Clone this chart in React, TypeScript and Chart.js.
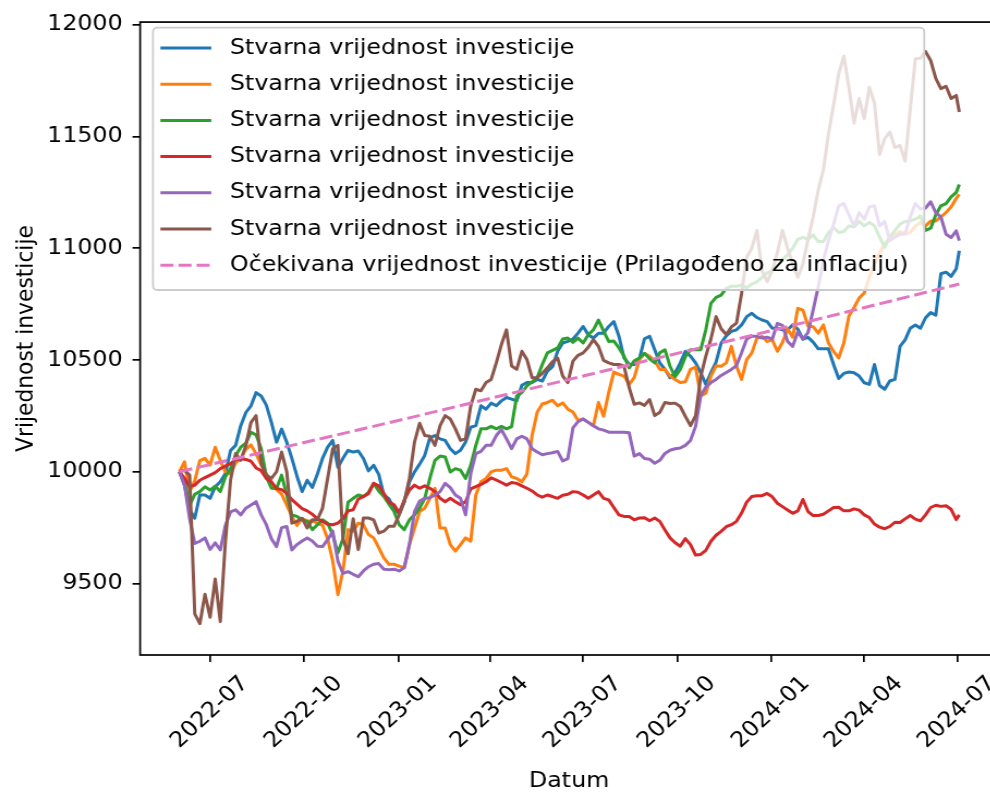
import React, { useEffect, useRef } from "react";
import { Chart, registerables } from "chart.js";

Chart.register(...registerables);

// ---- data (5-day sampling) ----
const DATES = [
  "2022-06-01", "2022-06-06", "2022-06-11", "2022-06-16", "2022-06-21", "2022-06-26", "2022-07-01", "2022-07-06",
  "2022-07-11", "2022-07-16", "2022-07-21", "2022-07-26", "2022-07-31", "2022-08-05", "2022-08-10", "2022-08-15",
  "2022-08-20", "2022-08-25", "2022-08-30", "2022-09-04", "2022-09-09", "2022-09-14", "2022-09-19", "2022-09-24",
  "2022-09-29", "2022-10-04", "2022-10-09", "2022-10-14", "2022-10-19", "2022-10-24", "2022-10-29", "2022-11-03",
  "2022-11-08", "2022-11-13", "2022-11-18", "2022-11-23", "2022-11-28", "2022-12-03", "2022-12-08", "2022-12-13",
  "2022-12-18", "2022-12-23", "2022-12-28", "2023-01-02", "2023-01-07", "2023-01-12", "2023-01-17", "2023-01-22",
  "2023-01-27", "2023-02-01", "2023-02-06", "2023-02-11", "2023-02-16", "2023-02-21", "2023-02-26", "2023-03-03",
  "2023-03-08", "2023-03-13", "2023-03-18", "2023-03-23", "2023-03-28", "2023-04-02", "2023-04-07", "2023-04-12",
  "2023-04-17", "2023-04-22", "2023-04-27", "2023-05-02", "2023-05-07", "2023-05-12", "2023-05-17", "2023-05-22",
  "2023-05-27", "2023-06-01", "2023-06-06", "2023-06-11", "2023-06-16", "2023-06-21", "2023-06-26", "2023-07-01",
  "2023-07-06", "2023-07-11", "2023-07-16", "2023-07-21", "2023-07-26", "2023-07-31", "2023-08-05", "2023-08-10",
  "2023-08-15", "2023-08-20", "2023-08-25", "2023-08-30", "2023-09-04", "2023-09-09", "2023-09-14", "2023-09-19",
  "2023-09-24", "2023-09-29", "2023-10-04", "2023-10-09", "2023-10-14", "2023-10-19", "2023-10-24", "2023-10-29",
  "2023-11-03", "2023-11-08", "2023-11-13", "2023-11-18", "2023-11-23", "2023-11-28", "2023-12-03", "2023-12-08",
  "2023-12-13", "2023-12-18", "2023-12-23", "2023-12-28", "2024-01-02", "2024-01-07", "2024-01-12", "2024-01-17",
  "2024-01-22", "2024-01-27", "2024-02-01", "2024-02-06", "2024-02-11", "2024-02-16", "2024-02-21", "2024-02-26",
  "2024-03-02", "2024-03-07", "2024-03-12", "2024-03-17", "2024-03-22", "2024-03-27", "2024-04-01", "2024-04-06",
  "2024-04-11", "2024-04-16", "2024-04-21", "2024-04-26", "2024-05-01", "2024-05-06", "2024-05-11", "2024-05-16",
  "2024-05-21", "2024-05-26", "2024-05-31", "2024-06-05", "2024-06-10", "2024-06-15", "2024-06-20", "2024-06-25",
  "2024-06-30", "2024-07-03",
];

const BLUE = [
  10000, 9940, 9830, 9792, 9896, 9896, 9881, 9933, 9955, 9992, 10095, 10118, 10206, 10265, 10295, 10354,
  10339, 10298, 10221, 10132, 10191, 10132, 10060, 9980, 9911, 9962, 9930, 9990, 10060, 10110, 10140, 10020,
  10060, 10096, 10088, 10093, 10059, 10004, 10029, 9988, 9896, 9878, 9837, 9812, 9866, 9955, 9999, 10034,
  10073, 10152, 10162, 10147, 10140, 10103, 10081, 10096, 10133, 10199, 10206, 10295, 10280, 10307, 10295, 10317,
  10332, 10325, 10317, 10387, 10399, 10399, 10413, 10406, 10450, 10470, 10539, 10576, 10583, 10594, 10620, 10650,
  10613, 10598, 10620, 10620, 10650, 10672, 10606, 10509, 10480, 10480, 10505, 10595, 10606, 10546, 10487, 10458,
  10421, 10443, 10487, 10539, 10517, 10487, 10443, 10391, 10443, 10490, 10576, 10608, 10628, 10635, 10657, 10694,
  10709, 10690, 10679, 10672, 10642, 10642, 10635, 10635, 10657, 10638, 10593, 10601, 10580, 10550, 10550, 10550,
  10480, 10417, 10440, 10446, 10443, 10428, 10398, 10391, 10480, 10386, 10369, 10406, 10413, 10561, 10590, 10642,
  10657, 10642, 10689, 10712, 10700, 10886, 10893, 10874,
  10908, 10989,
];

const ORANGE = [
  10000, 10044, 9911, 9960, 10050, 10060, 10030, 10110, 10050, 9999, 9990, 10040, 10060, 10100, 10120, 10080,
  10030, 9990, 9950, 9920, 9900, 9850, 9800, 9760, 9790, 9780, 9780, 9770, 9760, 9700, 9600, 9450,
  9556, 9741, 9734, 9770, 9763, 9719, 9704, 9660, 9615, 9586, 9586, 9578, 9571, 9674, 9748, 9822,
  9837, 9881, 9926, 9748, 9748, 9674, 9645, 9674, 9704, 9689, 9896, 9955, 9970, 9999, 10007, 10007,
  10014, 9977, 9970, 9955, 9990, 10162, 10266, 10303, 10310, 10320, 10295, 10308, 10280, 10267, 10229, 10236,
  10221, 10206, 10310, 10248, 10354, 10446, 10436, 10428, 10391, 10421, 10502, 10529, 10517, 10496, 10458, 10458,
  10428, 10413, 10399, 10403, 10458, 10468, 10339, 10351, 10428, 10474, 10472, 10487, 10561, 10472, 10413, 10502,
  10532, 10598, 10606, 10583, 10590, 10539, 10578, 10639, 10602, 10731, 10723, 10652, 10649, 10620, 10657, 10576,
  10539, 10509, 10576, 10697, 10735, 10777, 10800, 10870, 10930, 10980, 11020, 11045, 11060, 11075, 11065, 11070,
  11100, 11115, 11100, 11122, 11122, 11140, 11160, 11185,
  11223, 11241,
];

const GREEN = [
  10000, 9955, 9851, 9899, 9911, 9933, 9918, 9936, 9911, 9977, 10014, 10073, 10110, 10128, 10177, 10165,
  10103, 9977, 9926, 9925, 9985, 9896, 9807, 9800, 9785, 9778, 9741, 9763, 9785, 9770, 9718, 9637,
  9700, 9864, 9881, 9896, 9889, 9908, 9948, 9914, 9889, 9855, 9822, 9763, 9741, 9785, 9807, 9837,
  9881, 9970, 10051, 10070, 10066, 9999, 10014, 10007, 9970, 10029, 10118, 10192, 10192, 10203, 10192, 10203,
  10192, 10202, 10339, 10354, 10384, 10402, 10421, 10480, 10532, 10543, 10554, 10594, 10598, 10579, 10598, 10576,
  10613, 10635, 10679, 10629, 10583, 10585, 10554, 10517, 10465, 10496, 10509, 10530, 10505, 10487, 10532, 10546,
  10472, 10425, 10458, 10515, 10546, 10546, 10546, 10635, 10753, 10780, 10790, 10821, 10830, 10830, 10835, 10823,
  10840, 10850, 10870, 10890, 10900, 10920, 10950, 10970, 11000, 11040, 11049, 11040, 11060, 11030, 11030, 11070,
  11093, 11070, 11075, 11100, 11095, 11120, 11100, 11115, 11100, 11050, 11004, 11050, 11080, 11108, 11120, 11123,
  11130, 11145, 11080, 11090, 11150, 11190, 11200, 11230,
  11250, 11285,
];

const RED = [
  10000, 9970, 9933, 9940, 9962, 9974, 9985, 9996, 10014, 10026, 10036, 10054, 10058, 10055, 10047, 10017,
  10005, 9970, 9955, 9925, 9920, 9903, 9875, 9855, 9835, 9825, 9810, 9789, 9778, 9765, 9763, 9770,
  9790, 9825, 9830, 9878, 9889, 9902, 9948, 9937, 9903, 9864, 9852, 9815, 9874, 9918, 9940, 9926,
  9937, 9926, 9911, 9881, 9866, 9881, 9866, 9852, 9866, 9923, 9933, 9943, 9955, 9973, 9963, 9952,
  9940, 9952, 9948, 9937, 9926, 9914, 9896, 9886, 9896, 9889, 9881, 9895, 9899, 9911, 9908, 9896,
  9881, 9896, 9911, 9881, 9874, 9840, 9807, 9800, 9800, 9785, 9793, 9794, 9781, 9793, 9778, 9739,
  9704, 9682, 9667, 9701, 9674, 9627, 9630, 9648, 9689, 9716, 9733, 9754, 9763, 9778, 9815, 9864,
  9889, 9893, 9893, 9903, 9888, 9859, 9844, 9829, 9814, 9825, 9876, 9822, 9804, 9804, 9810, 9825,
  9840, 9841, 9825, 9825, 9834, 9828, 9807, 9795, 9766, 9752, 9745, 9755, 9774, 9773, 9789, 9804,
  9788, 9780, 9807, 9840, 9850, 9845, 9848, 9832,
  9786, 9807,
];

const PURPLE = [
  10000, 9940, 9790, 9679, 9689, 9704, 9652, 9682, 9650, 9760, 9820, 9830, 9807, 9837, 9851, 9866,
  9807, 9763, 9700, 9665, 9750, 9755, 9650, 9674, 9690, 9704, 9690, 9667, 9665, 9696, 9734, 9600,
  9545, 9553, 9541, 9530, 9556, 9575, 9586, 9589, 9564, 9562, 9564, 9556, 9571, 9674, 9822, 9869,
  9881, 9884, 9896, 9911, 9948, 9929, 9896, 9881, 9807, 9992, 10081, 10091, 10118, 10118, 10162, 10189,
  10147, 10103, 10147, 10159, 10147, 10103, 10088, 10076, 10081, 10085, 10091, 10048, 10059, 10196, 10224, 10236,
  10221, 10206, 10192, 10186, 10177, 10177, 10177, 10177, 10174, 10070, 10081, 10059, 10056, 10038, 10051, 10082,
  10096, 10103, 10106, 10118, 10140, 10203, 10339, 10379, 10399, 10413, 10431, 10444, 10458, 10475, 10532, 10594,
  10606, 10606, 10598, 10602, 10593, 10664, 10655, 10583, 10561, 10626, 10593, 10623, 10723, 10827, 10945, 11034,
  11108, 11189, 11200, 11150, 11100, 11160, 11130, 11185, 11190, 11100, 11120, 11034, 11049, 11063, 11063, 11140,
  11200, 11175, 11180, 11208, 11159, 11140, 11063, 11048,
  11078, 11034,
];

const BROWN = [
  10000, 10007, 9985, 9364, 9320, 9452, 9349, 9520, 9330, 9689, 9962, 10081, 10051, 10118, 10221, 10251,
  10036, 9985, 9970, 10000, 10088, 10000, 9770, 9778, 9792, 9748, 9785, 9785, 9837, 9970, 10103, 10118,
  9700, 9633, 9790, 9652, 9793, 9793, 9785, 9726, 9734, 9756, 9756, 9807, 9866, 9970, 10133, 10217,
  10162, 10159, 10118, 10206, 10251, 10236, 10192, 10140, 10147, 10295, 10369, 10362, 10399, 10413, 10487, 10569,
  10635, 10473, 10458, 10539, 10502, 10421, 10421, 10440, 10465, 10492, 10509, 10428, 10399, 10495, 10521, 10532,
  10557, 10591, 10561, 10498, 10487, 10480, 10480, 10472, 10376, 10302, 10308, 10297, 10323, 10251, 10266, 10310,
  10305, 10307, 10292, 10248, 10206, 10251, 10425, 10517, 10594, 10694, 10640, 10614, 10648, 10665, 10798, 10960,
  11000, 11080, 10900, 10850, 10900, 10980, 11080, 11000, 10930, 10870, 10930, 11040, 11140, 11260, 11350, 11510,
  11640, 11780, 11860, 11720, 11560, 11670, 11580, 11720, 11650, 11420, 11490, 11520, 11450, 11460, 11390, 11620,
  11848, 11850, 11880, 11840, 11760, 11714, 11725, 11670,
  11684, 11610,
];

const EXPECTED_DATES = ["2022-06-01", "2023-01-01", "2024-01-01", "2024-07-03"];
const EXPECTED = [10000, 10229, 10631, 10840];

const X_TICK_DATES = ["2022-07", "2022-10", "2023-01", "2023-04", "2023-07", "2023-10", "2024-01", "2024-04", "2024-07"];
const Y_TICKS = [9500, 10000, 10500, 11000, 11500, 12000];

const SERIES_LABEL = "Stvarna vrijednost investicije";
const EXPECTED_LABEL = "Očekivana vrijednost investicije (Prilagođeno za inflaciju)";
const X_TITLE = "Datum";
const Y_TITLE = "Vrijednost investicije";

const COLORS = ["#1f77b4", "#ff7f0e", "#2ca02c", "#d62728", "#9467bd", "#8c564b"];
const PINK = "#e377c2";

// ---- layout (bitmap is stretched horizontally on screen) ----
const STRETCH = 1.09;
const W = 927;
const H = 794;
const FONT = "DejaVu Sans";
const FS = 21.8;

const toDay = (s: string) => {
  const p = s.split("-").map(Number);
  return Date.UTC(p[0], p[1] - 1, p[2] || 1) / 86400000;
};
const X_REF = toDay("2022-07-01");

const framePlugin = {
  id: "frameAndLegend",
  afterDatasetsDraw(chart: any) {
    const ctx = chart.ctx;
    const a = chart.chartArea;
    ctx.save();
    ctx.strokeStyle = "#000";
    ctx.lineWidth = 1.7;
    ctx.strokeRect(a.left, a.top, a.right - a.left, a.bottom - a.top);

    const bx = 140.4, by = 27.7, bw = 707.9, bh = 262.3, r = 4;
    ctx.beginPath();
    ctx.moveTo(bx + r, by);
    ctx.lineTo(bx + bw - r, by);
    ctx.arcTo(bx + bw, by, bx + bw, by + r, r);
    ctx.lineTo(bx + bw, by + bh - r);
    ctx.arcTo(bx + bw, by + bh, bx + bw - r, by + bh, r);
    ctx.lineTo(bx + r, by + bh);
    ctx.arcTo(bx, by + bh, bx, by + bh - r, r);
    ctx.lineTo(bx, by + r);
    ctx.arcTo(bx, by, bx + r, by, r);
    ctx.closePath();
    ctx.fillStyle = "rgba(255,255,255,0.8)";
    ctx.fill();
    ctx.strokeStyle = "#cccccc";
    ctx.lineWidth = 1.8;
    ctx.stroke();

    const entries = COLORS.map((c) => ({ color: c, label: SERIES_LABEL, dash: [] as number[] }));
    entries.push({ color: PINK, label: EXPECTED_LABEL, dash: [12, 4.6] });
    ctx.font = `${FS}px "${FONT}"`;
    ctx.textBaseline = "middle";
    ctx.textAlign = "left";
    entries.forEach((e, i) => {
      const y = 48.0 + i * 36.2;
      ctx.beginPath();
      ctx.setLineDash(e.dash);
      ctx.strokeStyle = e.color;
      ctx.lineWidth = 3;
      ctx.moveTo(147.2, y);
      ctx.lineTo(193.9, y);
      ctx.stroke();
      ctx.setLineDash([]);
      ctx.fillStyle = "#000";
      ctx.fillText(e.label, 211, y);
    });
    ctx.restore();
  },
};

export default function App() {
  const ref = useRef<HTMLCanvasElement | null>(null);

  useEffect(() => {
    if (!ref.current) return;
    Chart.defaults.font.family = FONT;
    Chart.defaults.color = "#000";
    const series = [BLUE, ORANGE, GREEN, RED, PURPLE, BROWN];
    const datasets: any[] = series.map((vals, si) => ({
      label: SERIES_LABEL,
      data: DATES.map((d, i) => ({ x: toDay(d), y: vals[i] })),
      borderColor: COLORS[si],
      backgroundColor: COLORS[si],
      borderWidth: 3,
      pointRadius: 0,
      tension: 0,
      fill: false,
      borderJoinStyle: "round",
      order: 6 - si,
    }));
    datasets.push({
      label: EXPECTED_LABEL,
      data: EXPECTED_DATES.map((d, i) => ({ x: toDay(d), y: EXPECTED[i] })),
      borderColor: PINK,
      backgroundColor: PINK,
      borderWidth: 3,
      borderDash: [12, 4.6],
      pointRadius: 0,
      tension: 0,
      fill: false,
      order: 0,
    });

    const chart = new Chart(ref.current, {
      type: "line",
      data: { datasets },
      plugins: [framePlugin],
      options: {
        animation: false,
        responsive: false,
        devicePixelRatio: 1,
        layout: { padding: { top: 16, right: W - 916.1, left: 0, bottom: 0 } },
        plugins: { legend: { display: false }, tooltip: { enabled: false } },
        scales: {
          x: {
            type: "linear",
            min: X_REF - 68.45,
            max: X_REF + 771.0,
            afterBuildTicks: (s: any) => {
              s.ticks = X_TICK_DATES.map((d) => ({ value: toDay(d) }));
            },
            afterFit: (s: any) => {
              s.height = H - 655;
            },
            ticks: {
              autoSkip: false,
              minRotation: 45,
              maxRotation: 45,
              padding: 9,
              labelOffset: 32,
              font: { family: FONT, size: FS },
              color: "#000",
              callback: (_v: any, i: number) => X_TICK_DATES[i],
            },
            grid: { display: true, drawOnChartArea: false, drawTicks: true, tickLength: 7, color: "#000", lineWidth: 1.7 },
            border: { display: false },
            title: { display: true, text: X_TITLE, font: { family: FONT, size: FS }, color: "#000", padding: { top: 0, bottom: 0 } },
          },
          y: {
            type: "linear",
            min: 9180,
            max: 12012,
            afterBuildTicks: (s: any) => {
              s.ticks = Y_TICKS.map((v) => ({ value: v }));
            },
            afterFit: (s: any) => {
              s.width = 128.6;
            },
            ticks: {
              padding: 9,
              font: { family: FONT, size: FS },
              color: "#000",
              callback: (v: any) => String(v),
            },
            grid: { display: true, drawOnChartArea: false, drawTicks: true, tickLength: 7, color: "#000", lineWidth: 1.7 },
            border: { display: false },
            title: { display: true, text: Y_TITLE, font: { family: FONT, size: FS }, color: "#000", padding: { top: 11, bottom: 0 } },
          },
        },
      } as any,
    });
    return () => chart.destroy();
  }, []);

  return (
    <div style={{ position: "fixed", left: 0, top: 0, width: 990, height: 794, overflow: "hidden", background: "#fff" }}>
      <canvas
        ref={ref}
        width={W}
        height={H}
        style={{ width: `${W * STRETCH}px`, height: `${H}px`, display: "block" }}
      />
    </div>
  );
}
